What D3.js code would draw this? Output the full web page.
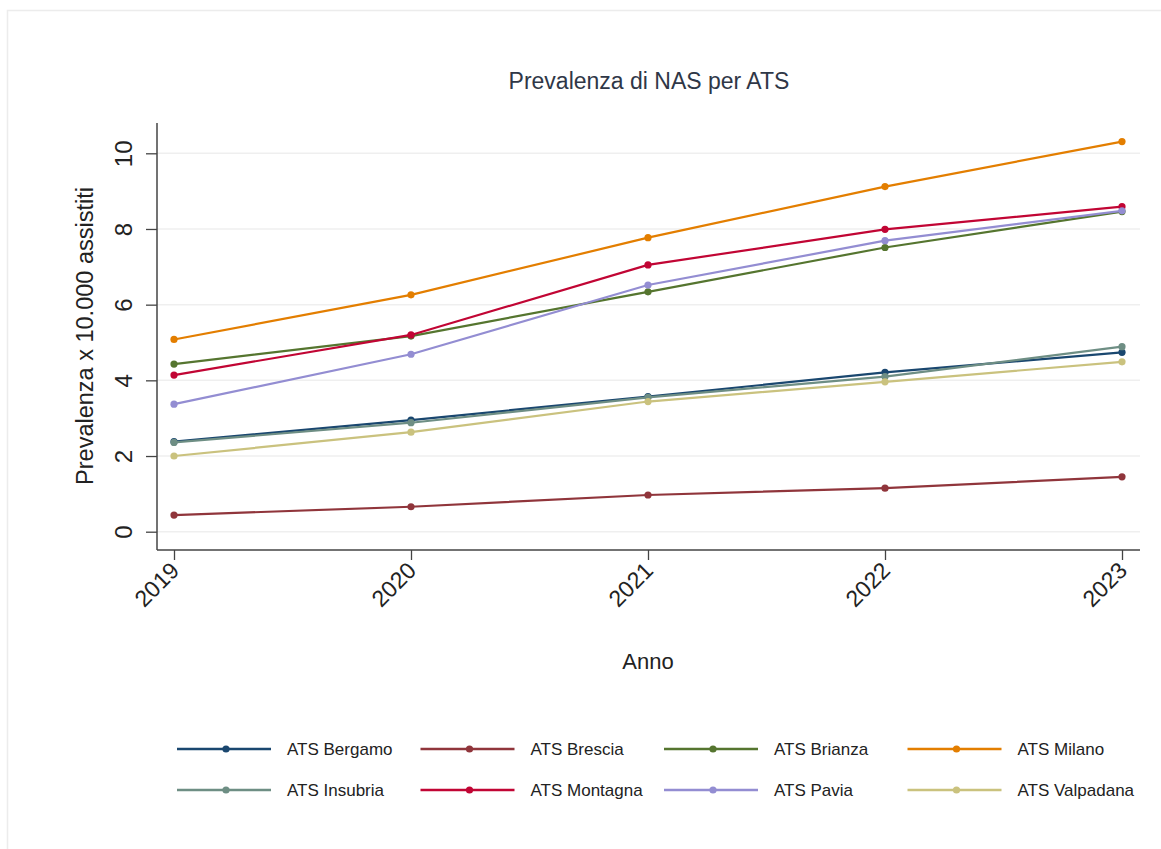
<!DOCTYPE html>
<html>
<head>
<meta charset="utf-8">
<script src="https://cdn.jsdelivr.net/npm/d3@7"></script>
<style>
  html, body { margin: 0; padding: 0; background: #fff; }
  svg { display: block; }
  text { font-family: "Liberation Sans", Arial, sans-serif; }
</style>
</head>
<body>
<svg id="chart" width="1161" height="849"></svg>
<script>
// ---- data ----
const years = [2019, 2020, 2021, 2022, 2023];
const seriesNames = ["ATS Bergamo", "ATS Brescia", "ATS Brianza", "ATS Milano",
                     "ATS Insubria", "ATS Montagna", "ATS Pavia", "ATS Valpadana"];
const bergamo   = [2.38, 2.95, 3.57, 4.21, 4.74];
const brescia   = [0.44, 0.66, 0.97, 1.15, 1.45];
const brianza   = [4.43, 5.17, 6.34, 7.51, 8.46];
const milano    = [5.08, 6.26, 7.77, 9.12, 10.31];
const insubria  = [2.36, 2.88, 3.55, 4.10, 4.89];
const montagna  = [4.14, 5.20, 7.05, 7.99, 8.59];
const pavia     = [3.37, 4.69, 6.52, 7.69, 8.48];
const valpadana = [2.00, 2.63, 3.44, 3.96, 4.49];
const yTicks = [0, 2, 4, 6, 8, 10];
const colors = ["#1a476f", "#90353b", "#55752f", "#e37e00",
                "#6e8e84", "#c10534", "#938dd2", "#cac27e"];
const title = "Prevalenza di NAS per ATS";
const xTitle = "Anno";
const yTitle = "Prevalenza x 10.000 assistiti";

const seriesValues = [bergamo, brescia, brianza, milano, insubria, montagna, pavia, valpadana];
const series = seriesNames.map((n, i) => ({
  name: n, color: colors[i],
  values: years.map((y, j) => ({ year: y, v: seriesValues[i][j] }))
}));

// ---- layout ----
const svg = d3.select("#chart");
const plotLeft = 157, plotRight = 1140, plotTop = 123, plotBottom = 550;
const x = d3.scaleLinear().domain([2019, 2023]).range([174, 1122]);
const y = d3.scaleLinear().domain([0, 10]).range([531.7, 153.3]);

// outer frame
svg.append("rect").attr("x", 7.5).attr("y", 10.5).attr("width", 1170).attr("height", 850)
  .attr("fill", "#fff").attr("stroke", "#ececec").attr("stroke-width", 1.5);

// title
svg.append("text").attr("x", 649).attr("y", 89).attr("text-anchor", "middle")
  .attr("font-size", 23).attr("fill", "#2f3747").text(title);

// gridlines
svg.append("g").selectAll("line").data(yTicks).join("line")
  .attr("x1", plotLeft).attr("x2", plotRight)
  .attr("y1", d => y(d)).attr("y2", d => y(d))
  .attr("stroke", "#efefef").attr("stroke-width", 1.5);

// y axis
const yAxis = svg.append("g").attr("transform", `translate(${plotLeft},0)`)
  .call(d3.axisLeft(y).tickValues(yTicks).tickSize(11).tickPadding(0).tickFormat(d3.format("d")));
yAxis.select(".domain").remove();
yAxis.selectAll(".tick line").attr("stroke", "#444").attr("stroke-width", 1.3);
yAxis.selectAll(".tick text")
  .attr("x", null).attr("dy", null)
  .attr("transform", "translate(-25,0) rotate(-90)")
  .attr("text-anchor", "middle")
  .attr("font-size", 24).attr("fill", "#222");
svg.append("line").attr("x1", plotLeft).attr("x2", plotLeft)
  .attr("y1", plotTop).attr("y2", plotBottom)
  .attr("stroke", "#444").attr("stroke-width", 1.5);

// x axis
const xAxis = svg.append("g").attr("transform", `translate(0,${plotBottom})`)
  .call(d3.axisBottom(x).tickValues(years).tickSize(10).tickFormat(d3.format("d")));
xAxis.select(".domain").remove();
xAxis.selectAll(".tick line").attr("stroke", "#444").attr("stroke-width", 1.3);
xAxis.selectAll(".tick text")
  .attr("y", null).attr("dy", null)
  .attr("transform", "translate(6,22) rotate(-45)")
  .attr("text-anchor", "end")
  .attr("font-size", 23).attr("fill", "#222");
svg.append("line").attr("x1", plotLeft).attr("x2", plotRight)
  .attr("y1", plotBottom).attr("y2", plotBottom)
  .attr("stroke", "#444").attr("stroke-width", 1.5);

// axis titles
svg.append("text").attr("x", 648).attr("y", 669).attr("text-anchor", "middle")
  .attr("font-size", 22).attr("fill", "#222").text(xTitle);
svg.append("text").attr("transform", "translate(93,336) rotate(-90)")
  .attr("text-anchor", "middle").attr("font-size", 23.5).attr("fill", "#222").text(yTitle);

// lines
const line = d3.line().x(d => x(d.year)).y(d => y(d.v));
const sg = svg.append("g").selectAll("g").data(series).join("g");
sg.append("path").attr("d", d => line(d.values)).attr("fill", "none")
  .attr("stroke", d => d.color).attr("stroke-width", 2.2);
sg.selectAll("circle").data(d => d.values.map(v => ({ ...v, color: d.color }))).join("circle")
  .attr("cx", d => x(d.year)).attr("cy", d => y(d.v)).attr("r", 3.6)
  .attr("fill", d => d.color);

// legend
const legend = svg.append("g");
const lg = legend.selectAll("g").data(series).join("g")
  .attr("transform", (d, i) => `translate(${177 + (i % 4) * 243.5},${i < 4 ? 749 : 790})`);
lg.append("line").attr("x1", 0).attr("x2", 94).attr("y1", 0).attr("y2", 0)
  .attr("stroke", d => d.color).attr("stroke-width", 2.5);
lg.append("circle").attr("cx", 49).attr("cy", 0).attr("r", 3.6).attr("fill", d => d.color);
lg.append("text").attr("x", 110).attr("y", 6).attr("font-size", 17).attr("fill", "#222")
  .text(d => d.name);
</script>
</body>
</html>
